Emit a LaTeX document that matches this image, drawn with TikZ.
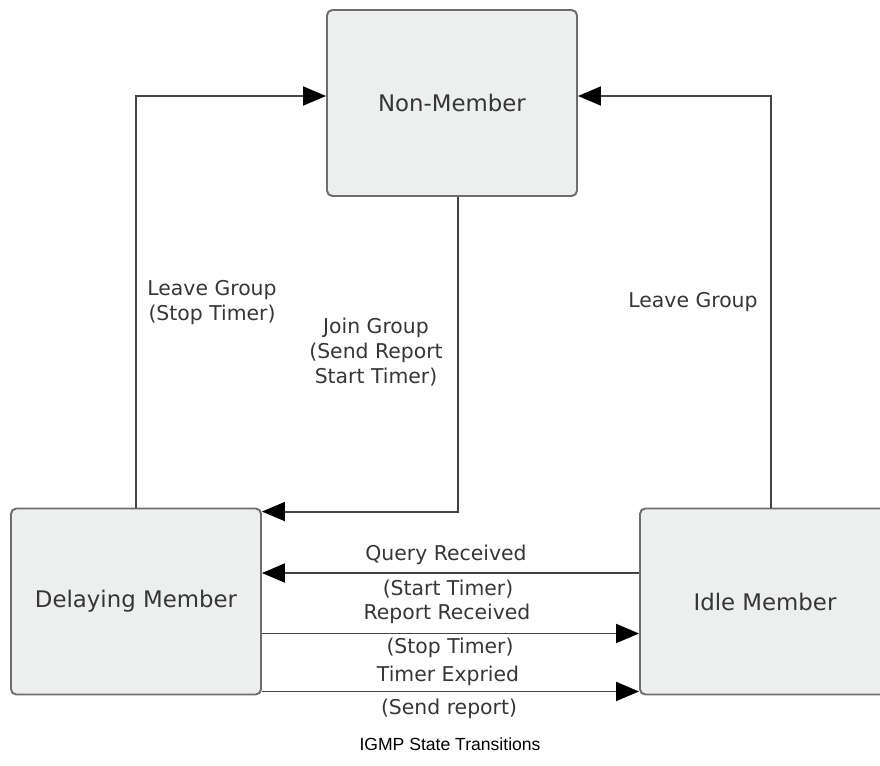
\documentclass[tikz,border=0pt]{standalone}
\usepackage{fontspec}
\setmainfont{DejaVu Sans}
\newfontfamily\capfont{Liberation Sans}
\usetikzlibrary{arrows.meta}
\definecolor{boxfill}{HTML}{EDEEEE}
\definecolor{boxline}{HTML}{6E6E6E}
\definecolor{txtgray}{HTML}{363636}
\definecolor{linecol}{HTML}{444444}

\begin{document}
\begin{tikzpicture}[x=0.02cm, y=-0.02cm,
  state/.style={draw=boxline, line width=1.1pt, fill=boxfill, rounded corners=3pt,
    minimum width=5cm, minimum height=3.72cm, font=\fontsize{13}{15}\selectfont, text=txtgray},
  trans/.style={draw=linecol, line width=1.1pt, -{Triangle[length=0.46cm, width=0.38cm, color=black]}},
  lbl/.style={font=\fontsize{11.6}{14.2}\selectfont, text=txtgray, align=center, inner sep=0pt}]
  \useasboundingbox (0,0) rectangle (880,765);
  \clip (0,0) rectangle (880,765);

  \node[state] (nonmember) at (452,103) {Non-Member};
  \node[state] (delay) at (136,601.5) {Delaying Member};
  \node[state] (idle) at (765,601.5) {Idle Member};

  \draw[trans] (delay.north) |- ([yshift=0.14cm]nonmember.west);
  \draw[trans] ([xshift=0.12cm]idle.north) |- ([yshift=0.14cm]nonmember.east);
  \draw[trans] ([xshift=0.12cm]nonmember.south) |- ([yshift=-0.08cm]delay.north east);
  \draw[trans] ([yshift=0.57cm]idle.west) -- ([yshift=0.57cm]delay.east);
  \draw[trans] ([yshift=-0.64cm]delay.east) -- ([yshift=-0.64cm]idle.west);
  \draw[trans] ([yshift=-1.8cm]delay.east) -- ([yshift=-1.8cm]idle.west);

  \node[lbl] (leaveleft) at (212,303) {Leave Group\\(Stop Timer)};
  \node[lbl] (join) at (376,352) {Join Group\\(Send Report\\Start Timer)};
  \node[lbl] (leaveright) at (693,302) {Leave Group};
  \node[lbl] (query) at (446,555) {Query Received};
  \node[lbl] (querysub) at (448,589) {(Start Timer)};
  \node[lbl] (report) at (447,614) {Report Received};
  \node[lbl] (reportsub) at (450,648) {(Stop Timer)};
  \node[lbl] (timer) at (448,676) {Timer Expried};
  \node[lbl] (timersub) at (449,709) {(Send report)};

  \node[font=\capfont\fontsize{10}{12}\selectfont, inner sep=0pt] (caption) at (450,744) {IGMP State Transitions};
\end{tikzpicture}
\end{document}
